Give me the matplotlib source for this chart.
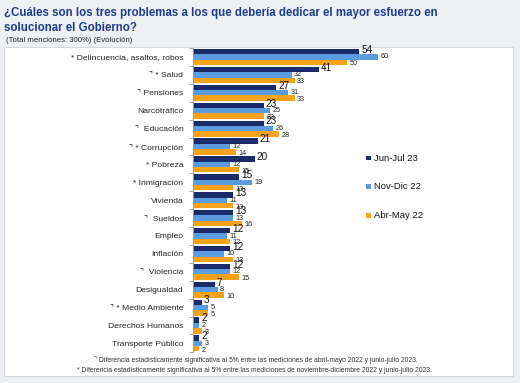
import matplotlib
matplotlib.use("Agg")
import matplotlib.pyplot as plt
from matplotlib.patches import Rectangle
import numpy as np

plt.rcParams['font.family'] = ['Liberation Sans', 'DejaVu Sans']

categories = ["* Delincuencia, asaltos, robos", "⌝ * Salud", "⌝ Pensiones", "Narcotráfico",
              "⌝  Educación", "⌝ * Corrupción", "* Pobreza", "* Inmigración", "Vivienda",
              "⌝  Sueldos", "Empleo", "Inflación", "⌝  Violencia", "Desigualdad",
              "⌝ * Medio Ambiente", "Derechos Humanos", "Transporte Público"]
jun_jul_23 = [54, 41, 27, 23, 23, 21, 20, 15, 13, 13, 12, 12, 12, 7, 3, 2, 2]
nov_dic_22 = [60, 32, 31, 25, 26, 12, 12, 19, 11, 13, 11, 10, 12, 8, 5, 2, 3]
abr_may_22 = [50, 33, 33, 23, 28, 14, 15, 13, 13, 16, 12, 13, 15, 10, 5, 3, 2]
series_names = ["Jun-Jul 23", "Nov-Dic 22", "Abr-May 22"]
colors = ["#1b2a6b", "#5b9be0", "#f7a21b"]

W, H = 520, 383
fig = plt.figure(figsize=(W/100, H/100), dpi=100)
fig.patch.set_facecolor("#eef0f4")

# white panel (background axes)
bg = fig.add_axes([4/W, 1 - 376/H, 509/W, (376-47)/H], zorder=-5)
bg.set_xticks([]); bg.set_yticks([])
bg.set_facecolor("white")
for s in bg.spines.values():
    s.set_color("#d6d9de"); s.set_linewidth(0.8)

fig.text(4/W, 1 - 13/H, "¿Cuáles son los tres problemas a los que debería dedicar el mayor esfuerzo en",
         fontsize=8.3, fontweight="bold", color="#1f3d8f", va="center", ha="left")
fig.text(4/W, 1 - 28/H, "solucionar el Gobierno?",
         fontsize=8.3, fontweight="bold", color="#1f3d8f", va="center", ha="left")
fig.text(6/W, 1 - 40/H, "(Total menciones: 300%) (Evolución)", fontsize=5.6, color="#222222",
         va="center", ha="left")

n = len(categories)
slot = 17.9
top_px = 57 - slot/2
ax = fig.add_axes([193/W, 1 - (top_px + n*slot)/H, 308/W, n*slot/H], zorder=1)
ax.set_facecolor("none")
ax.set_xlim(0, 100)
ax.set_ylim(n - 0.5, -0.5)

y = np.arange(n)
bh = 0.3
offs = [-bh, 0, bh]
series = [jun_jul_23, nov_dic_22, abr_may_22]
for k, (vals, c, nm) in enumerate(zip(series, colors, series_names)):
    ax.barh(y + offs[k], vals, height=bh, color=c, label=nm, zorder=2)

for i in range(n):
    ax.text(jun_jul_23[i] + 0.6, y[i] - 0.4, str(jun_jul_23[i]), fontsize=7.2, color="#111111",
            va="center", ha="left", zorder=3)
    ax.text(nov_dic_22[i] + 0.8, y[i] + 0.0, str(nov_dic_22[i]), fontsize=5.2, color="#222222",
            va="center", ha="left", zorder=3)
    ax.text(abr_may_22[i] + 0.8, y[i] + 0.38, str(abr_may_22[i]), fontsize=5.2, color="#222222",
            va="center", ha="left", zorder=3)

ax.set_yticks(y)
ax.set_yticklabels(categories, fontsize=6.1, color="#222222")
ax.tick_params(axis="y", length=0, pad=7)
ax.set_yticks(np.arange(n + 1) - 0.5, minor=True)
ax.tick_params(axis="y", which="minor", length=3, color="#9a9a9a", width=0.6)
ax.set_xticks([])
for s in ["top", "right", "bottom"]:
    ax.spines[s].set_visible(False)
ax.spines["left"].set_color("#9a9a9a")
ax.spines["left"].set_linewidth(0.7)

# legend
for k, nm in enumerate(series_names):
    yy = 158 + k * 28.5
    fig.patches.append(Rectangle((366/W, 1 - (yy + 2.5)/H), 5/W, 5/H, transform=fig.transFigure,
                                 facecolor=colors[k], edgecolor="none", zorder=3))
    fig.text(374/W, 1 - yy/H, nm, fontsize=6.8, color="#111111", va="center", ha="left")

fig.text(256/W, 1 - 360.5/H,
         "⌝ Diferencia estadísticamente significativa al 5% entre las mediciones de abril-mayo 2022 y junio-julio 2023.",
         fontsize=4.85, color="#333333", ha="center", va="center")
fig.text(254/W, 1 - 370/H,
         "* Diferencia estadísticamente significativa al 5% entre las mediciones de noviembre-diciembre 2022 y junio-julio 2023.",
         fontsize=4.85, color="#333333", ha="center", va="center")

fig.savefig("out.png", dpi=100, facecolor=fig.get_facecolor())
